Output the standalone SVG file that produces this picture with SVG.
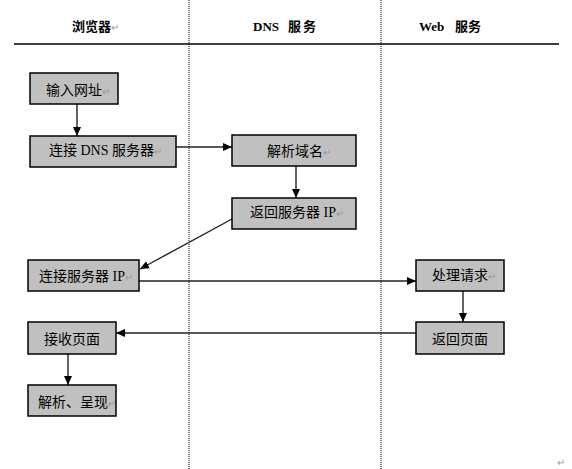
<svg xmlns="http://www.w3.org/2000/svg" width="572" height="469" viewBox="0 0 572 469">
<style>
.box{fill:#c0c0c0;stroke:#000;stroke-width:1.5}
.t{font-family:"Liberation Serif","Noto Sans CJK SC",serif;font-size:14px;fill:#000}
.h{font-family:"Liberation Serif","Noto Sans CJK SC",serif;font-size:13px;font-weight:bold;fill:#000}
.r{fill:#999;font-size:10px;font-weight:normal}
.c{stroke:#222;stroke-width:1.4;fill:none;marker-end:url(#ah)}
.lane{stroke:#000;stroke-width:1;stroke-dasharray:1,1}
</style>
<defs>
<marker id="ah" markerUnits="userSpaceOnUse" markerWidth="10" markerHeight="10" refX="9" refY="5" orient="auto">
<path d="M0,1 L9,5 L0,9 Z" fill="#000"/>
</marker>
</defs>
<rect width="572" height="469" fill="#fff"/>
<g id="lanes">
<line class="lane" x1="189" y1="0" x2="189" y2="469"/>
<line class="lane" x1="381" y1="0" x2="381" y2="469"/>
<line x1="14" y1="44" x2="559" y2="44" stroke="#000" stroke-width="1.5"/>
<text class="h" x="72" y="31" font-size="14">浏览器<tspan class="r">↵</tspan></text>
<text class="h" y="31"><tspan x="253">DNS</tspan><tspan x="288" letter-spacing="2">服务</tspan></text>
<text class="h" y="31"><tspan x="419">Web</tspan><tspan x="455">服务</tspan></text>
</g>
<g id="connectors">
<line class="c" x1="77" y1="104" x2="77" y2="136"/>
<line class="c" x1="176" y1="147" x2="232" y2="147"/>
<line class="c" x1="296" y1="166" x2="296" y2="198"/>
<line class="c" x1="232" y1="219" x2="140" y2="269"/>
<line class="c" x1="139" y1="281" x2="416" y2="281"/>
<line class="c" x1="463" y1="291" x2="463" y2="322"/>
<line class="c" x1="416" y1="333" x2="116" y2="333"/>
<line class="c" x1="68" y1="354" x2="68" y2="385"/>
</g>
<g id="n1"><rect class="box" x="30" y="73" width="88" height="31"/><text class="t" x="46" y="95">输入网址<tspan class="r">↵</tspan></text></g>
<g id="n2"><rect class="box" x="30" y="136" width="146" height="31"/><text class="t" x="49" y="155">连接 DNS 服务器<tspan class="r">↵</tspan></text></g>
<g id="n3"><rect class="box" x="232" y="135" width="124" height="31"/><text class="t" x="267" y="156">解析域名<tspan class="r">↵</tspan></text></g>
<g id="n4"><rect class="box" x="232" y="198" width="124" height="31"/><text class="t" x="250" y="217">返回服务器 IP<tspan class="r">↵</tspan></text></g>
<g id="n5"><rect class="box" x="28" y="260" width="111" height="31"/><text class="t" x="39" y="281">连接服务器 IP<tspan class="r">↵</tspan></text></g>
<g id="n6"><rect class="box" x="416" y="260" width="88" height="31"/><text class="t" x="432" y="280">处理请求<tspan class="r">↵</tspan></text></g>
<g id="n7"><rect class="box" x="416" y="322" width="88" height="32"/><text class="t" x="432" y="344">返回页面</text></g>
<g id="n8"><rect class="box" x="28" y="322" width="88" height="32"/><text class="t" x="44" y="344">接收页面</text></g>
<g id="n9"><rect class="box" x="28" y="385" width="88" height="31"/><text class="t" x="38" y="407">解析、呈现<tspan class="r">↵</tspan></text></g>
<text class="t r" x="557" y="466">↵</text>
</svg>
